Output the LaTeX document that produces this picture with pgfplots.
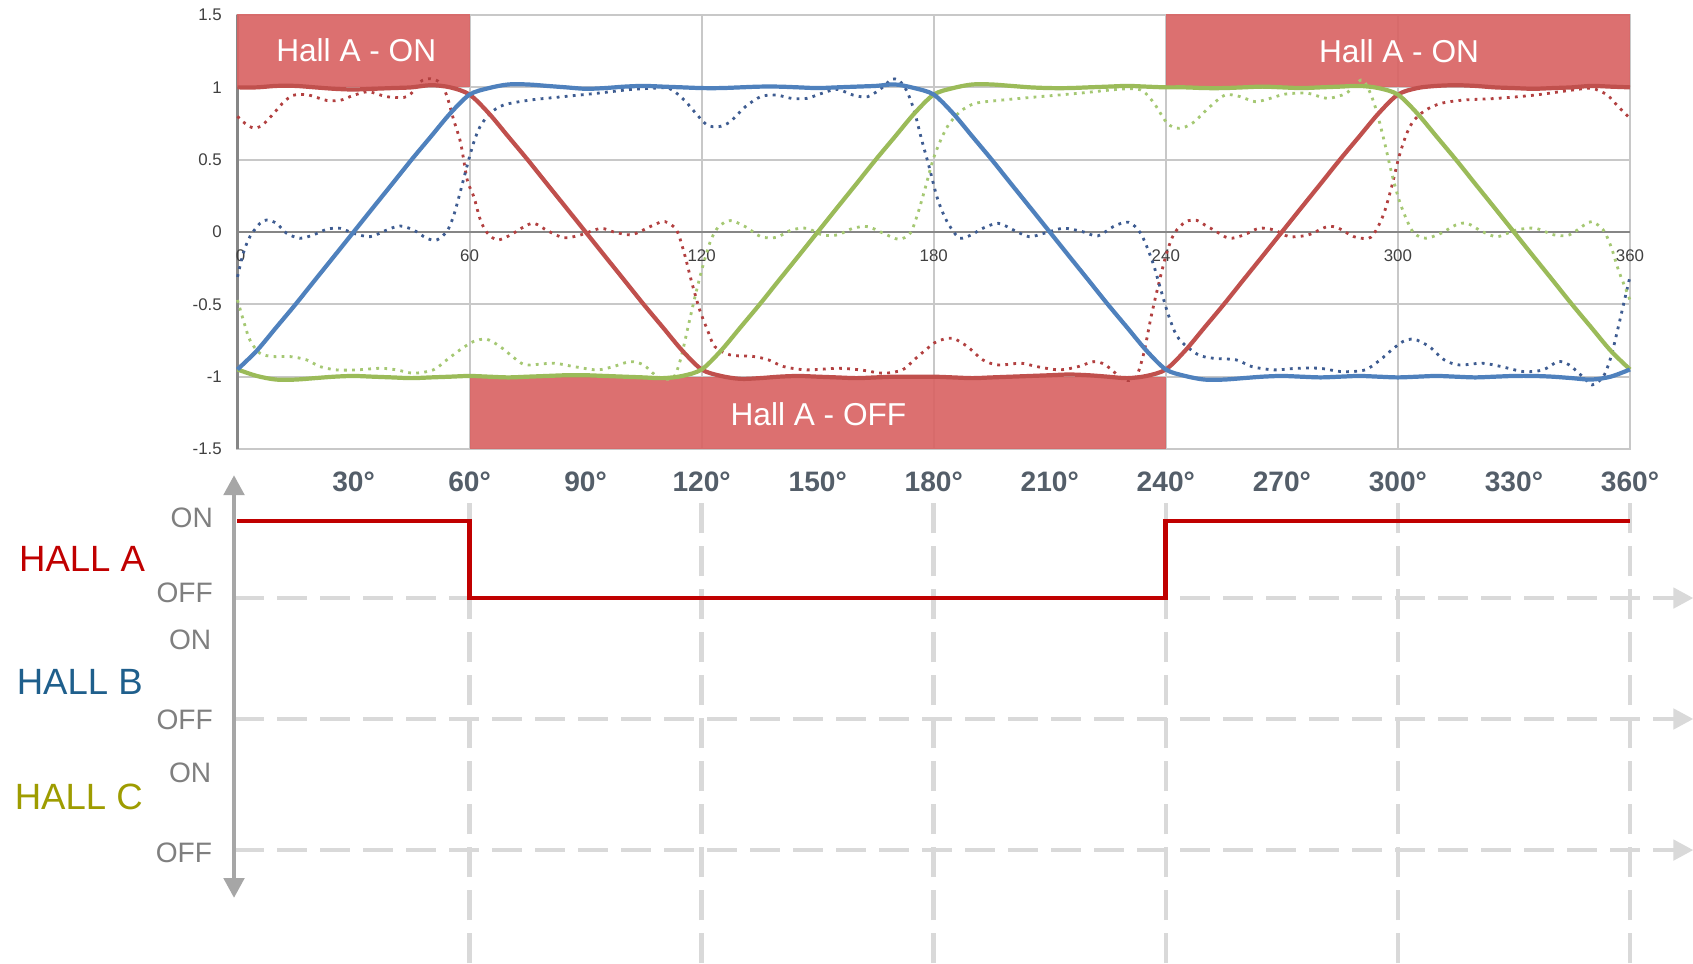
\documentclass[border=0pt]{standalone}
\usepackage{fontspec}
\setmainfont{Liberation Sans}
\usepackage{pgfplots}
\pgfplotsset{compat=1.18}
\usetikzlibrary{arrows.meta}

\definecolor{phaseA}{RGB}{192,80,77}
\definecolor{phaseB}{RGB}{79,129,189}
\definecolor{phaseC}{RGB}{155,187,89}
\definecolor{curA}{RGB}{178,64,64}
\definecolor{curB}{RGB}{62,92,145}
\definecolor{curC}{RGB}{165,200,115}
\definecolor{bandred}{RGB}{217,100,100}
\definecolor{gridgray}{RGB}{200,200,200}
\definecolor{axisgray}{RGB}{134,134,134}
\definecolor{hallA}{RGB}{192,0,0}
\definecolor{hallB}{RGB}{31,95,140}
\definecolor{hallC}{RGB}{158,156,0}
\definecolor{levelgray}{RGB}{127,127,127}
\definecolor{dashgray}{RGB}{217,217,217}
\definecolor{arrowgray}{RGB}{166,166,166}
\definecolor{degtext}{RGB}{84,94,105}

\pgfplotsset{
  emf/.style={line width=1.2pt, smooth, tension=0.5},
  cur/.style={line width=0.8pt, dash pattern=on 0.8pt off 1.5pt, smooth, tension=0.5},
}
\tikzset{
  offline/.style={dashgray, line width=1.3pt, dash pattern=on 3mm off 1.3mm, -{Triangle[length=2mm,width=2mm]}},
  lvl/.style={anchor=east, inner sep=0pt, text=levelgray, font=\fontsize{8}{9}\selectfont},
  hall/.style={anchor=east, inner sep=0pt, font=\fontsize{10.4}{12}\selectfont},
}

\begin{document}
\begin{tikzpicture}[x=1cm,y=1cm]
\path[use as bounding box] (0,0) rectangle (16.93,-9.63);

% ---------- back-EMF and phase currents ----------
\begin{axis}[
  at={(2.375cm,-4.49cm)}, anchor=south west,
  scale only axis, width=13.925cm, height=4.34cm,
  xmin=0, xmax=360, ymin=-1.5, ymax=1.5,
  xtick={0,60,...,360}, ytick={-1.5,-1,...,1.5},
  xticklabels={},
  grid=major, major grid style={gridgray, line width=0.6pt},
  axis line style={gridgray, line width=0.6pt},
  tick style={draw=none},
  /pgf/number format/assume math mode=true,
  yticklabel style={font=\fontsize{4.8}{5}\selectfont, text=black!75, anchor=east, inner sep=0pt, xshift=-1.5mm},
  clip=false,
]
\draw[axisgray, line width=0.6pt] (axis cs:0,-1.5) -- (axis cs:0,1.5);
\draw[axisgray, line width=0.6pt] (axis cs:0,0) -- (axis cs:360,0);
\pgfplotsinvokeforeach{60,120,180,240,300}{
  \node[font=\fontsize{4.8}{5}\selectfont, text=black!75] at (axis cs:#1,-0.165) {#1};
}
\node[font=\fontsize{4.8}{5}\selectfont, text=black!75] at (axis cs:0.8,-0.165) {0};
\node[font=\fontsize{4.8}{5}\selectfont, text=black!75] at (axis cs:360,-0.165) {360};

% Hall A state bands
\addplot[draw=none, fill=bandred, fill opacity=0.92] coordinates {(0,1) (60,1) (60,1.51) (0,1.51)} -- cycle;
\addplot[draw=none, fill=bandred, fill opacity=0.92] coordinates {(240,1) (360,1) (360,1.51) (240,1.51)} -- cycle;
\addplot[draw=none, fill=bandred, fill opacity=0.92] coordinates {(60,-1.5) (240,-1.5) (240,-1) (60,-1)} -- cycle;
\node[text=white, font=\fontsize{9}{10}\selectfont] at (axis cs:30.7,1.26) {Hall A - ON};
\node[text=white, font=\fontsize{9}{10}\selectfont] at (axis cs:300.3,1.25) {Hall A - ON};
\node[text=white, font=\fontsize{9}{10}\selectfont] at (axis cs:150.2,-1.262) {Hall A - OFF};

% phase currents (dotted)
\addplot[cur, curA] coordinates {
(0,0.80) (2,0.75) (4,0.72) (6,0.73) (8,0.78) (10,0.84) (12,0.90) (14.4,0.945) (17.8,0.95)
(20.5,0.93) (23,0.91) (26.5,0.91) (30,0.945) (33.6,0.97) (36,0.955) (38.7,0.935) (43,0.93)
(45,0.96) (47.3,1.04) (49.9,1.06) (52.5,1.03) (54.2,0.935) (55.9,0.774) (57.7,0.615)
(59.4,0.36) (61.1,0.244) (62.8,0.083) (64.6,-0.007) (67.2,-0.055) (70.6,-0.02) (74.1,0.037)
(76.7,0.06) (80.1,0.01) (84.4,-0.04) (88.7,-0.02) (93.9,0.025) (97.3,0.0) (101.6,-0.02)
(104.6,0.01) (107.7,0.05) (110.5,0.072) (113.5,0.014) (115.5,-0.147) (117.5,-0.354)
(119.5,-0.539) (121.5,-0.677) (123.4,-0.792) (127.4,-0.85) (133.3,-0.86) (137.3,-0.884)
(141.2,-0.93) (147.2,-0.953) (155.1,-0.942) (161,-0.953) (167,-0.976) (171.9,-0.953)
(174.9,-0.884) (177.9,-0.815) (180.8,-0.757) (184.8,-0.734) (188.7,-0.792) (192.7,-0.884)
(196.7,-0.919) (202.6,-0.907) (206.6,-0.93) (212.5,-0.953) (217.4,-0.93) (221.4,-0.896)
(224.4,-0.919) (229.3,-1.022) (232.3,-1.0) (234.3,-0.838) (236.2,-0.585) (238.2,-0.354)
(240.2,-0.147) (242.2,-0.009) (245.2,0.072) (248.1,0.08) (250,0.05) (252.4,0.014)
(256.3,-0.043) (260.2,-0.02) (264.1,0.026) (268,0.014) (271.9,-0.032) (276.8,-0.02)
(281.7,0.037) (284.7,0.026) (288.6,-0.032) (292.5,-0.043) (294.4,0.014) (296.4,0.13)
(298.4,0.314) (300.3,0.521) (302.3,0.682) (304.2,0.774) (307.2,0.843) (311.1,0.889)
(316.9,0.912) (325.7,0.924) (335.5,0.947) (345.3,0.982) (350.2,0.993) (354.1,0.947)
(357,0.866) (360,0.786)
};
\addplot[cur, curB] coordinates {
(0,-0.31) (1.5,-0.147) (3.2,-0.032) (5.8,0.06) (7.5,0.083) (10.1,0.06) (12.7,-0.009)
(16.2,-0.043) (19.6,-0.02) (23.1,0.019) (26.5,0.026) (30,-0.009) (34.3,-0.032) (38.6,0.014)
(42,0.042) (45.5,0.014) (48.9,-0.043) (51.5,-0.055) (54.1,0.003) (55.8,0.106) (57.5,0.268)
(59.3,0.452) (61,0.613) (62.7,0.728) (65.3,0.82) (68.8,0.878) (75.6,0.912) (84.3,0.936)
(92.9,0.959) (101.5,0.985) (107,0.993) (111.6,0.993) (115.5,0.912) (118.5,0.82)
(121.4,0.74) (124.4,0.728) (127.4,0.763) (131.3,0.866) (135.3,0.936) (139.3,0.947)
(143.2,0.924) (147.2,0.924) (151.1,0.959) (155.1,0.986) (159.1,0.947) (163,0.936)
(167,1.005) (169,1.055) (170.9,1.05) (172.9,0.982) (174.9,0.843) (176.9,0.636)
(178.8,0.452) (180.8,0.245) (182.8,0.106) (184.8,0.014) (186.8,-0.043) (189.7,-0.02)
(192.7,0.026) (196.7,0.06) (200.6,0.014) (204.6,-0.032) (208.5,-0.009) (213.5,0.026)
(218.4,0.003) (222.4,-0.027) (226.4,0.037) (230.3,0.068) (233.5,-0.009) (236.5,-0.2)
(238.5,-0.38) (240.5,-0.56) (242.5,-0.70) (244.5,-0.77) (248.5,-0.85) (252.4,-0.873)
(258.2,-0.884) (262.2,-0.93) (268,-0.953) (273.9,-0.942) (279.8,-0.942) (285.6,-0.965)
(291.5,-0.953) (295.4,-0.884) (298.4,-0.815) (301.3,-0.757) (304.2,-0.741) (308.1,-0.792)
(312,-0.884) (315.9,-0.919) (321.8,-0.907) (326.7,-0.93) (332.6,-0.965) (337.5,-0.953)
(341.4,-0.896) (344.3,-0.919) (348.2,-1.011) (350.2,-1.057) (353.1,-1.0) (355.1,-0.861)
(357,-0.654) (359,-0.423) (360,-0.31)
};
\addplot[cur, curC] coordinates {
(0,-0.47) (1.5,-0.608) (3.2,-0.746) (5.8,-0.838) (9.3,-0.861) (13.6,-0.861) (17.9,-0.884)
(21.3,-0.93) (25.6,-0.953) (30.8,-0.953) (36.9,-0.942) (41.2,-0.953) (45.5,-0.976)
(50.6,-0.953) (54.1,-0.884) (57.5,-0.815) (61,-0.757) (64.4,-0.741) (67.9,-0.792)
(72.2,-0.884) (74.8,-0.919) (81.7,-0.907) (86.9,-0.93) (92.9,-0.953) (97.2,-0.93)
(101.5,-0.896) (105,-0.919) (108.6,-1.0) (112.5,-1.011) (114.5,-0.884) (116.5,-0.654)
(118.5,-0.423) (120.5,-0.216) (122.4,-0.055) (124.4,0.037) (127.4,0.079) (131.3,0.037)
(135.3,-0.032) (139.3,-0.037) (143.2,0.014) (147.2,0.026) (151.1,-0.02) (155.1,-0.02)
(159.1,0.026) (163,0.037) (167,-0.009) (170.9,-0.05) (173.9,-0.009) (175.9,0.13)
(177.9,0.314) (179.8,0.498) (181.8,0.636) (183.8,0.74) (186.8,0.832) (190.7,0.889)
(197.6,0.912) (207.5,0.936) (217.4,0.959) (227.4,0.986) (232,0.99) (234.3,0.97)
(237,0.889) (240.4,0.751) (243.4,0.717) (246.8,0.751) (251.4,0.866) (255.3,0.947)
(259.2,0.936) (263.1,0.901) (267,0.924) (271,0.954) (276.8,0.959) (281.7,0.924)
(286.6,0.959) (290.5,1.051) (292.5,0.982) (294.4,0.843) (296.4,0.636) (298.4,0.406)
(300.3,0.222) (302.3,0.083) (304.2,-0.009) (307.2,-0.043) (311.1,-0.009) (315,0.049)
(317.9,0.06) (321.8,0.003) (325.7,-0.032) (330.6,0.014) (335.5,0.026) (340.4,-0.02)
(344.3,-0.02) (348.2,0.049) (350.2,0.072) (353.1,0.014) (355.1,-0.101) (357,-0.262)
(359,-0.4) (360,-0.47)
};

% back-EMF (solid)
\addplot[emf, phaseA] coordinates {
(0,1.00) (5,1.00) (10,1.01) (15,1.01) (20,1.00) (25,0.99) (30,0.985) (35,0.99) (40,0.995)
(45,1.00) (50,1.015) (55,1.00) (60,0.95) (65,0.82) (70,0.66) (75,0.50) (80,0.333) (85,0.167)
(90,0.00) (95,-0.167) (100,-0.333) (105,-0.50) (110,-0.66) (115,-0.82) (120,-0.95)
(125,-0.995) (130,-1.015) (135,-1.01) (140,-1.00) (145,-0.995) (150,-1.00) (155,-1.005)
(160,-1.01) (165,-1.005) (170,-1.00) (175,-1.00) (180,-1.00) (185,-1.005) (190,-1.01)
(195,-1.005) (200,-1.00) (205,-0.995) (210,-0.99) (215,-0.985) (220,-0.99) (225,-1.00)
(230,-1.01) (235,-0.995) (240,-0.95) (245,-0.82) (250,-0.66) (255,-0.50) (260,-0.333)
(265,-0.167) (270,0.00) (275,0.167) (280,0.333) (285,0.50) (290,0.66) (295,0.82) (300,0.95)
(305,0.995) (310,1.01) (315,1.015) (320,1.01) (325,1.00) (330,0.995) (335,0.99) (340,0.995)
(345,1.00) (350,1.01) (355,1.005) (360,1.00)
};
\addplot[emf, phaseC] coordinates {
(0,-0.95) (5,-0.995) (10,-1.02) (15,-1.02) (20,-1.01) (25,-1.00) (30,-0.995) (35,-1.00)
(40,-1.005) (45,-1.01) (50,-1.005) (55,-1.00) (60,-0.995) (65,-1.00) (70,-1.005) (75,-1.00)
(80,-0.995) (85,-0.99) (90,-0.99) (95,-0.995) (100,-1.00) (105,-1.005) (110,-1.01)
(115,-0.995) (120,-0.95) (125,-0.82) (130,-0.66) (135,-0.50) (140,-0.333) (145,-0.167)
(150,0) (155,0.167) (160,0.333) (165,0.50) (170,0.66) (175,0.82) (180,0.95) (185,0.995)
(190,1.02) (195,1.02) (200,1.01) (205,1.00) (210,0.995) (215,0.995) (220,1.00) (225,1.005)
(230,1.01) (235,1.005) (240,1.00) (245,1.00) (250,0.995) (255,0.995) (260,1.00) (265,1.005)
(270,1.00) (275,0.995) (280,1.00) (285,1.005) (290,1.01) (295,0.995) (300,0.95) (305,0.82)
(310,0.66) (315,0.50) (320,0.333) (325,0.167) (330,0) (335,-0.167) (340,-0.333) (345,-0.50)
(350,-0.66) (355,-0.82) (360,-0.95)
};
\addplot[emf, phaseB] coordinates {
(0,-0.95) (5,-0.82) (10,-0.66) (15,-0.50) (20,-0.333) (25,-0.167) (30,0) (35,0.167)
(40,0.333) (45,0.50) (50,0.66) (55,0.82) (60,0.95) (65,0.995) (70,1.02) (75,1.02) (80,1.01)
(85,1.00) (90,0.99) (95,0.995) (100,1.005) (105,1.01) (110,1.005) (115,1.00) (120,0.995)
(125,0.995) (130,1.00) (135,1.005) (140,1.005) (145,1.00) (150,0.995) (155,1.00) (160,1.005)
(165,1.01) (170,1.02) (175,0.995) (180,0.95) (185,0.82) (190,0.66) (195,0.50) (200,0.333)
(205,0.167) (210,0) (215,-0.167) (220,-0.333) (225,-0.50) (230,-0.66) (235,-0.82)
(240,-0.95) (245,-0.995) (250,-1.02) (255,-1.02) (260,-1.01) (265,-1.00) (270,-0.995)
(275,-1.00) (280,-1.005) (285,-1.00) (290,-0.995) (295,-1.00) (300,-1.005) (305,-1.00)
(310,-0.995) (315,-1.00) (320,-1.005) (325,-1.00) (330,-0.995) (335,-0.995) (340,-1.00)
(345,-1.01) (350,-1.02) (355,-1.00) (360,-0.95)
};
\end{axis}

% ---------- Hall sensor states ----------
\begin{axis}[
  at={(2.375cm,-9.63cm)}, anchor=south west,
  scale only axis, width=13.925cm, height=4.67cm,
  xmin=0, xmax=360, ymin=-4.740, ymax=1.325,
  axis line style={draw=none},
  tick style={draw=none},
  xtick={30,60,...,360},
  xticklabels={30°,60°,90°,120°,150°,180°,210°,240°,270°,300°,330°,360°},
  xticklabel pos=upper,
  xticklabel style={font=\bfseries\fontsize{8}{9}\selectfont, text=degtext, anchor=south, inner sep=0pt, yshift=0.35mm},
  ytick=\empty,
  extra x ticks={60,120,...,360},
  extra x tick labels={},
  extra x tick style={grid=major},
  major grid style={dashgray, line width=1.3pt, dash pattern=on 3mm off 1.3mm},
  clip=false,
]
\draw[offline] (axis cs:-0.9,0) -- (axis cs:376.4,0);
\draw[offline] (axis cs:-0.9,-1.571) -- (axis cs:376.4,-1.571);
\draw[offline] (axis cs:-0.9,-3.273) -- (axis cs:376.4,-3.273);
\draw[arrowgray, line width=1.4pt,
      {Triangle[length=2mm,width=2mm]}-{Triangle[length=2mm,width=2mm]}]
      (axis cs:-0.9,1.597) -- (axis cs:-0.9,-3.896);

\node[hall, text=hallA] at (axis cs:-23.7,0.506) {HALL A};
\node[hall, text=hallB] at (axis cs:-24.3,-1.09) {HALL B};
\node[hall, text=hallC] at (axis cs:-24.3,-2.58) {HALL C};
\node[lvl] at (axis cs:-6.2,1.04) {ON};
\node[lvl] at (axis cs:-6.2,0.065) {OFF};
\node[lvl] at (axis cs:-6.6,-0.545) {ON};
\node[lvl] at (axis cs:-6.2,-1.584) {OFF};
\node[lvl] at (axis cs:-6.6,-2.27) {ON};
\node[lvl] at (axis cs:-6.4,-3.31) {OFF};

\addplot[hallA, line width=1.4pt, line join=miter] coordinates {
(0,1) (60,1) (60,0) (240,0) (240,1) (360,1)
};
\end{axis}
\end{tikzpicture}
\end{document}
